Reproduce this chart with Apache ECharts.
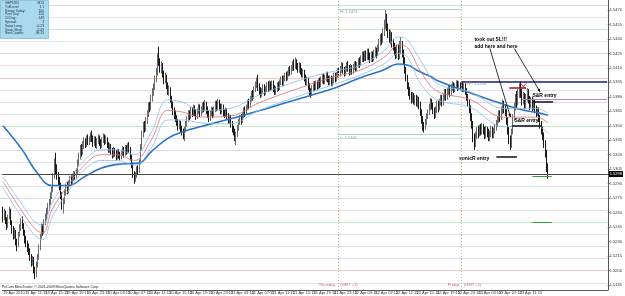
<!DOCTYPE html>
<html>
<head>
<meta charset="utf-8">
<script src="https://cdn.jsdelivr.net/npm/echarts@6/dist/echarts.min.js"></script>
<style>
html, body { margin: 0; padding: 0; background: #fff; }
#chart { width: 625px; height: 296px; }
</style>
</head>
<body>
<div id="chart"></div>
<script>
// GBPUSD M15, 19 Apr 2010 07:00 .. 23 Apr 2010 16:45
// candles are [open, close, low, high] in pips above 1.5000
const mon = [
  [262,255,250,266],[255,260,252,264],[260,252,248,262],[252,246,242,255],[246,255,244,258],[255,262,253,266],[262,250,247,264],[250,243,238,252],[243,236,232,246],[236,240,233,244],
  [240,230,226,242],[230,226,220,233],[226,238,224,240],[238,244,235,248],[244,250,241,254],[250,246,243,256],[246,240,236,249],[240,232,228,242],[232,228,224,236],[228,225,219,231],
  [225,220,216,228],[220,214,210,223],[214,208,204,217],[208,212,205,215],[212,201,197,214],[201,196,191,204],[196,206,193,209],[206,214,203,217],[214,224,211,227],[224,236,221,238],
  [236,245,233,249],[245,240,236,248],[240,250,238,253],[250,256,247,259],[256,262,252,265],[262,266,258,270],[266,271,262,274],[271,277,268,281],[277,283,274,287],[283,298,281,301],
  [298,312,295,316],[312,306,300,322],[306,298,294,310],[298,293,288,302],[293,288,283,297],[288,278,274,291],[278,268,263,281],[268,272,259,275],[272,280,269,284],[280,287,277,290],
  [287,283,279,292],[283,290,280,293],[290,295,287,298],[295,292,288,299],[292,296,289,300],[296,300,293,303],[300,297,294,303],[297,303,295,306],[303,312,300,315],[312,318,309,322],
  [318,326,315,330],[326,322,318,331],[322,330,320,334],[330,334,326,338],[334,331,327,337],[331,337,328,340],[337,333,330,341],[333,336,330,339]
]
const tue = [
  [336,340,333,343],[340,337,333,345],[337,332,328,340],[332,336,329,339],[336,330,327,339],[330,334,326,337],[334,338,331,341],[338,333,329,340],[333,330,326,336],[330,335,327,338],
  [335,339,332,342],[339,334,330,341],[334,336,331,340],[336,330,327,338],[330,326,322,333],[326,329,322,332],[329,324,320,331],[324,320,316,327],[320,325,317,328],[325,322,318,327],
  [322,318,314,325],[318,323,315,326],[323,320,316,326],[320,317,314,323],[317,322,315,325],[322,326,319,329],[326,321,317,328],[321,327,319,330],[327,324,320,330],[324,329,321,332],
  [329,326,322,333],[326,318,314,328],[318,310,306,320],[310,300,296,312],[300,295,290,303],[295,299,292,302],[299,305,296,308],[305,303,299,309],[303,312,301,315],[312,328,310,331],
  [328,342,325,345],[342,350,338,354],[350,347,343,355],[347,356,344,359],[356,362,352,366],[362,370,359,374],[370,368,364,375],[368,378,366,382],[378,385,375,389],[385,390,381,394],
  [390,398,387,402],[398,405,395,410],[405,420,402,425],[420,416,412,432],[416,410,405,420],[410,412,404,417],[412,404,400,415],[404,398,393,407],[398,401,394,405],[401,392,388,403],
  [392,386,382,395],[386,388,381,392],[388,378,374,390],[378,372,368,381],[372,366,361,375],[366,362,357,369],[362,358,354,366],[358,354,350,361],[354,350,345,357],[350,352,346,356],
  [352,347,343,355],[347,344,340,350],[344,340,336,347],[340,346,334,349],[346,352,343,355],[352,357,349,360],[357,362,354,366],[362,360,356,366],[360,366,357,370],[366,363,359,369],
  [363,368,360,372],[368,364,360,371],[364,360,356,367],[360,365,357,368],[365,369,362,373],[369,363,359,372],[363,366,360,370],[366,371,363,374],[371,368,364,375],[368,372,365,377],
  [372,367,362,375],[367,362,358,370],[362,358,354,366],[358,363,355,366],[363,366,360,370],[366,362,358,369]
]
const wed = [
  [362,367,359,370],[367,372,364,376],[372,369,365,376],[369,374,366,378],[374,370,366,377],[370,366,362,373],[366,369,362,373],[369,364,360,372],[364,362,358,367],[362,366,359,369],
  [366,360,356,368],[360,356,352,363],[356,358,352,361],[358,352,348,361],[352,347,343,355],[347,344,340,350],[344,338,334,347],[338,341,330,344],[341,348,338,351],[348,354,345,357],
  [354,358,351,361],[358,355,351,362],[355,361,353,364],[361,366,358,369],[366,363,359,370],[363,369,361,372],[369,374,366,377],[374,371,367,378],[371,378,369,381],[378,383,375,386],
  [383,380,376,387],[380,388,378,391],[388,392,385,396],[392,396,389,400],[396,390,386,403],[390,386,382,394],[386,383,379,390],[383,386,380,389],[386,390,383,393],[390,385,381,393],
  [385,388,382,391],[388,392,385,395],[392,389,385,396],[389,393,386,397],[393,390,386,396],[390,394,387,397],[394,389,385,397],[389,386,382,392],[386,388,382,391],[388,392,385,395],
  [392,390,386,396],[390,395,387,398],[395,398,392,401],[398,394,391,402],[394,399,391,402],[399,402,396,405],[402,400,396,406],[400,404,397,407],[404,408,401,411],[408,405,402,412],
  [405,410,403,413],[410,414,407,417],[414,411,407,419],[411,416,409,421],[416,412,408,419],[412,409,405,415],[409,412,405,416],[412,407,403,415],[407,404,400,410],[404,406,400,409],
  [406,400,396,408],[400,396,392,403],[396,398,392,401],[398,391,387,400],[391,386,382,394],[386,384,379,389],[384,389,381,392],[389,393,386,396],[393,390,386,396],[390,394,387,397],
  [394,391,387,397],[391,396,388,399],[396,393,389,400],[393,398,390,401],[398,401,394,404],[401,397,393,404],[397,400,393,403],[400,403,396,406],[403,399,395,406],[399,396,392,402],
  [396,399,392,402],[399,395,391,402],[395,398,391,401],[398,402,394,405],[402,399,395,405],[399,403,396,406]
]
const thu = [
  [403,407,400,410],[407,404,400,411],[404,409,401,412],[409,412,405,416],[412,408,404,415],[408,405,401,411],[405,409,402,412],[409,413,406,416],[413,410,406,417],[410,406,402,413],
  [406,410,403,414],[410,407,403,413],[407,411,404,414],[411,414,408,417],[414,410,406,417],[410,413,407,416],[413,417,410,420],[417,414,410,421],[414,419,412,423],[419,423,416,427],
  [423,420,416,427],[420,424,417,428],[424,421,417,428],[421,426,418,430],[426,422,418,430],[422,419,415,426],[419,423,416,427],[423,420,416,427],[420,425,417,429],[425,428,421,432],
  [428,424,420,431],[424,430,422,434],[430,436,427,440],[436,441,433,445],[441,438,434,446],[438,447,436,451],[447,455,443,460],[455,462,450,470],[462,452,448,466],[452,446,441,456],
  [446,440,436,450],[440,444,434,449],[444,436,431,447],[436,432,428,440],[432,428,423,436],[428,424,419,432],[424,430,420,434],[430,422,418,434],[422,428,419,438],[428,434,424,442],
  [434,426,421,438],[426,418,414,429],[418,408,404,421],[408,400,396,411],[400,392,388,403],[392,386,381,395],[386,381,377,390],[381,378,373,385],[378,382,374,385],[382,376,372,384],
  [376,379,371,382],[379,374,370,382],[374,378,369,381],[378,372,367,380],[372,364,360,375],[364,357,352,367],[357,350,345,360],[350,348,343,354],[348,354,346,357],[354,360,351,363],
  [360,364,357,367],[364,370,361,373],[370,375,366,379],[375,371,367,378],[371,366,362,374],[366,362,357,369],[362,366,358,370],[366,372,363,376],[372,369,364,376],[369,374,366,378],
  [374,378,371,382],[378,374,370,382],[374,379,371,383],[379,384,376,388],[384,380,376,388],[380,385,377,389],[385,388,382,392],[388,384,380,392],[384,389,381,393],[389,392,386,396],
  [392,388,384,395],[388,391,385,394],[391,394,388,397],[394,390,386,397],[390,393,387,396],[393,391,387,395]
]
const fri = [
  [391,393,388,396],[393,389,385,396],[389,391,385,394],[391,386,382,394],[386,380,376,389],[380,374,370,383],[374,368,363,377],[368,360,355,371],[360,352,347,363],[352,338,333,355],
  [338,332,325,342],[332,340,328,344],[340,346,336,349],[346,342,337,350],[342,348,339,351],[348,344,340,352],[344,349,341,353],[349,345,341,352],[345,341,336,349],[341,346,337,350],
  [346,343,338,349],[343,338,334,347],[338,342,334,345],[342,346,338,350],[346,341,337,349],[341,345,337,348],[345,349,342,352],[349,352,345,356],[352,357,349,360],[357,362,353,366],
  [362,358,354,366],[358,366,356,370],[366,372,362,377],[372,368,363,376],[368,364,360,372],[364,356,351,367],[356,346,341,359],[346,336,331,349],[336,331,325,340],[331,344,327,347],
  [344,358,341,362],[358,370,355,374],[370,378,366,383],[378,374,368,386],[374,383,371,388],[383,390,379,394],[390,384,379,396],[384,376,371,388],[376,381,372,385],[381,372,367,384],
  [372,379,368,383],[379,385,375,389],[385,378,373,388],[378,372,366,381],[372,377,368,380],[377,370,365,380],[370,374,366,378],[374,368,363,377],[368,364,359,371],[364,366,360,369],
  [366,358,354,369],[358,352,347,361],[352,346,341,355],[346,340,335,349],[340,332,327,343],[332,322,317,335],[322,308,302,325],[308,298,295,311]
]

// indicator lines: [bar, pips]
const maSlow = [[0,350],[15,325],[25,304],[38,288],[51,288],[63,297],[76,306],[89,310],[102,311],[107,312],[115,323],[128,337],[140,344],[153,349],[179,358],[205,368],[230,378],[255,388],[278,400],[294,407],[307,414],[314,413],[322,407],[332,401],[337,397],[363,384],[389,372],[404,366],[414,364],[423,361]]
const emaHigh = [[0,297],[15,268],[25,250],[31,247],[38,270],[51,294],[63,314],[76,325],[89,325],[102,320],[115,343],[128,377],[140,374],[153,366],[176,368],[199,382],[230,397],[255,406],[278,413],[297,429],[307,442],[314,439],[324,418],[337,394],[363,385],[389,368],[414,368],[423,363]]
const emaClose = [[0,292],[15,261],[25,243],[31,239],[38,263],[51,289],[63,309],[76,320],[89,320],[102,314],[115,335],[128,366],[140,364],[153,359],[176,360],[199,374],[230,389],[255,400],[278,408],[297,422],[307,434],[314,431],[324,407],[337,386],[363,377],[389,359],[414,359],[423,353]]
const emaLow = [[0,286],[15,254],[25,236],[31,232],[38,255],[51,283],[63,304],[76,314],[89,314],[102,309],[115,327],[128,356],[140,356],[153,353],[176,352],[199,366],[230,381],[255,392],[278,403],[297,415],[307,425],[314,421],[324,394],[337,377],[363,369],[389,349],[414,350],[423,342]]

const yTicks = [1.5185,1.5200,1.5215,1.5230,1.5245,1.5260,1.5275,1.5290,1.5305,1.5320,1.5335,1.5350,1.5365,1.5380,1.5395,1.5410,1.5425,1.5440,1.5455,1.5470]
const xLabels = ['19 Apr 11:15','19 Apr 15:15','19 Apr 19:15','19 Apr 23:15',
  '20 Apr 03:15','20 Apr 07:15','20 Apr 11:15','20 Apr 15:15','20 Apr 19:15','20 Apr 23:15',
  '21 Apr 03:15','21 Apr 07:15','21 Apr 11:15','21 Apr 15:15','21 Apr 19:15','21 Apr 23:15',
  '22 Apr 03:15','22 Apr 07:15','22 Apr 11:15','22 Apr 15:15','22 Apr 19:15','22 Apr 23:15',
  '23 Apr 03:15','23 Apr 07:15','23 Apr 11:15','23 Apr 15:15']
const levels = [1.51875,1.5200,1.52125,1.5225,1.52375,1.5250,1.52625,1.5275,1.52875,1.5300,1.53125,1.5325,
  1.53375,1.5350,1.53625,1.5375,1.53875,1.5400,1.54125,1.5425,1.54375,1.5450,1.54625,1.5475]
const lastPrice = 1.5298
const dayHigh = 1.5471, dayLow = 1.5341, pivot = 1.5396

const BASE = 1.5
const toPrice = v => +(BASE + v / 10000).toFixed(5)
const candles = [].concat(mon, tue, wed, thu, fri).map(c => c.map(toPrice))
const line = arr => arr.map(([i, v]) => [i, toPrice(v)])

// 15 minute slots, chart shifted to the right like MT4
const SLOTS = 470
const cats = []
for (let i = 0; i < SLOTS; i++) {
  const m = 7 * 60 + i * 15
  const d = 19 + Math.floor(m / 1440)
  const hm = m % 1440
  cats.push(d + ' Apr ' + String(Math.floor(hm / 60)).padStart(2, '0') + ':' + String(hm % 60).padStart(2, '0'))
}
const showLabel = (idx, val) => idx === 0 || xLabels.indexOf(val) >= 0

function levelColor(v) {
  const p = Math.round(v * 100000)
  if (p % 1000 === 0) return '#efcccc'
  if (p % 500 === 0) return '#c8e6c8'
  if (p % 250 === 0) return '#d8d8ec'
  return '#e2e2ee'
}

function seg(i0, i1, v, color, width) {
  return [{ coord: [i0, v], lineStyle: { color: color, width: width, type: 'solid' } }, { coord: [i1, v] }]
}

const chart = echarts.init(document.getElementById('chart'))
chart.setOption({
  animation: false,
  backgroundColor: '#fff',
  grid: { left: 0, right: 13, top: 0, bottom: 6 },
  xAxis: {
    type: 'category',
    data: cats,
    boundaryGap: true,
    axisLine: { lineStyle: { color: '#555', width: 1 } },
    axisTick: { interval: showLabel, length: 2, lineStyle: { color: '#555' } },
    axisLabel: {
      interval: showLabel,
      formatter: (val, idx) => idx === 0 ? '19 Apr 2010' : val,
      align: 'left',
      fontSize: 4,
      color: '#333',
      margin: 1,
      fontFamily: 'Liberation Sans'
    },
    splitLine: { show: false }
  },
  yAxis: {
    type: 'value',
    position: 'right',
    min: 1.517975,
    max: 1.548037,
    axisLine: { show: true, lineStyle: { color: '#555', width: 1 } },
    axisTick: { show: true, customValues: yTicks, length: 2, lineStyle: { color: '#555' } },
    axisLabel: {
      customValues: yTicks,
      formatter: v => v.toFixed(4),
      fontSize: 4,
      color: '#333',
      margin: 2,
      fontFamily: 'Liberation Sans'
    },
    splitLine: { show: false }
  },
  series: [
    {
      name: 'objects',
      type: 'line',
      data: [],
      z: 2,
      silent: true,
      markLine: {
        symbol: 'none',
        silent: true,
        label: { show: false },
        data: [
          { xAxis: 260, lineStyle: { color: '#cdbf8a', width: 1, type: [1, 2] } },
          { xAxis: 356, lineStyle: { color: '#cdbf8a', width: 1, type: [1, 2] } },
          seg(260, 356, dayHigh, '#a6d9cf', 1),
          seg(260, 356, dayLow, '#a6d9cf', 1),
          seg(356, 469, pivot, '#1d1d78', 1.6),
          seg(403, 469, 1.5377, '#b585b3', 1),
          seg(393, 406, 1.5389, '#a31515', 1.5),
          seg(411, 427, 1.5375, '#111', 1.5),
          seg(395, 418, 1.5350, '#111', 1.5),
          seg(383, 399, 1.5318, '#111', 1.5),
          seg(411, 426, 1.5250, '#2f9e3a', 1),
          seg(411, 426, lastPrice, '#2f9e3a', 1)
        ]
      }
    },
    {
      name: 'GBPUSD',
      type: 'candlestick',
      data: candles,
      z: 3,
      barWidth: 1,
      itemStyle: {
        color: '#ffffff',
        color0: '#2a2a2a',
        borderColor: '#6a6a6a',
        borderColor0: '#1a1a1a',
        borderWidth: 1
      },
      markLine: {
        symbol: 'none',
        silent: true,
        data: [{ yAxis: lastPrice }],
        lineStyle: { color: '#4a4a4a', width: 1, type: 'solid' },
        label: {
          show: true,
          position: 'end',
          distance: 1,
          formatter: () => lastPrice.toFixed(4),
          backgroundColor: '#000',
          color: '#fff',
          fontSize: 4,
          padding: [1, 1],
          fontFamily: 'Liberation Sans'
        }
      }
    },
    {
      name: 'EMA89', type: 'line', data: line(maSlow), smooth: 0.4, symbol: 'none', z: 4,
      lineStyle: { color: '#2b73c8', width: 1.6 }
    },
    {
      name: 'EMA34 high', type: 'line', data: line(emaHigh), smooth: 0.4, symbol: 'none', z: 4,
      lineStyle: { color: '#8dbbe8', width: 0.8 }
    },
    {
      name: 'EMA34 close', type: 'line', data: line(emaClose), smooth: 0.4, symbol: 'none', z: 4,
      lineStyle: { color: '#d97070', width: 0.8 }
    },
    {
      name: 'EMA34 low', type: 'line', data: line(emaLow), smooth: 0.4, symbol: 'none', z: 4,
      lineStyle: { color: '#8dbbe8', width: 0.8 }
    }
  ]
})

// drawn objects, anchored in data space
const P = (i, v) => chart.convertToPixel({ gridIndex: 0 }, [i, v])
const g = []

// pale level lines behind the price, snapped to whole pixels
const gridRight = P(SLOTS - 1, lastPrice)[0] + 0.7
levels.forEach(v => {
  const y = Math.round(P(0, v)[1]) + 0.5
  g.push({ type: 'line', z: 0, silent: true, shape: { x1: 0, y1: y, x2: gridRight, y2: y }, style: { stroke: levelColor(v), lineWidth: 1 } })
})

const notes = [
  { bar: 366, price: 1.5439, text: 'took out SL!!!' },
  { bar: 366, price: 1.5432, text: 'add here and here' },
  { bar: 411, price: 1.5381, text: 'S&R entry' },
  { bar: 397, price: 1.5355, text: 'S&R entry' },
  { bar: 354, price: 1.5316, text: 'sonicR entry' }
]
const arrows = [
  { from: [378, 1.5430], to: [394, 1.5359] },
  { from: [397, 1.5430], to: [417, 1.5385] }
]
notes.forEach(n => {
  const p = P(n.bar, n.price)
  g.push({ type: 'text', x: p[0], y: p[1], z: 10, style: { text: n.text, fill: '#000', font: 'bold 5px "Liberation Sans"', textVerticalAlign: 'middle' } })
})
arrows.forEach(a => {
  const p0 = P(a.from[0], a.from[1]), p1 = P(a.to[0], a.to[1])
  const ang = Math.atan2(p1[1] - p0[1], p1[0] - p0[0])
  g.push({ type: 'line', z: 10, shape: { x1: p0[0], y1: p0[1], x2: p1[0], y2: p1[1] }, style: { stroke: '#000', lineWidth: 0.8 } })
  g.push({ type: 'polygon', z: 10, shape: { points: [
    [p1[0], p1[1]],
    [p1[0] - 3.5 * Math.cos(ang - 0.4), p1[1] - 3.5 * Math.sin(ang - 0.4)],
    [p1[0] - 3.5 * Math.cos(ang + 0.4), p1[1] - 3.5 * Math.sin(ang + 0.4)]
  ] }, style: { fill: '#000' } })
})
const xp = P(404, 1.5391)
g.push({ type: 'line', z: 10, shape: { x1: xp[0] - 3, y1: xp[1] - 3, x2: xp[0] + 3, y2: xp[1] + 3 }, style: { stroke: '#c01818', lineWidth: 0.9 } })
g.push({ type: 'line', z: 10, shape: { x1: xp[0] + 3, y1: xp[1] - 3, x2: xp[0] - 3, y2: xp[1] + 3 }, style: { stroke: '#c01818', lineWidth: 0.9 } })

const hp = P(261, dayHigh), lp = P(261, dayLow), pp = P(359, pivot)
g.push({ type: 'text', x: hp[0] + 1, y: hp[1] + 1, z: 10, style: { text: 'H: 1.5471', fill: '#8a9a9a', font: '4px "Liberation Sans"' } })
g.push({ type: 'text', x: lp[0] + 1, y: lp[1] + 1, z: 10, style: { text: 'L: 1.5341', fill: '#8a9a9a', font: '4px "Liberation Sans"' } })
g.push({ type: 'text', x: pp[0] + 1, y: pp[1] + 1, z: 10, style: { text: 'PP: 1.5396', fill: '#8a8a9a', font: '4px "Liberation Sans"' } })

const dayNames = [{ bar: 260, name: 'Thursday' }, { bar: 356, name: 'Friday' }]
dayNames.forEach(d => {
  const x = P(d.bar, lastPrice)[0] - 0.6
  g.push({ type: 'text', x: x - 2, y: 285, z: 10, style: { text: d.name, fill: '#d2607e', font: '4px "Liberation Sans"', textAlign: 'right', textVerticalAlign: 'middle' } })
  g.push({ type: 'text', x: x + 3, y: 285, z: 10, style: { text: '(GMT +1)', fill: '#d2607e', font: '4px "Liberation Sans"', textVerticalAlign: 'middle' } })
})

g.push({ type: 'text', left: 2, top: 285, z: 10, style: { text: 'PriCom MetaTrader, \u00a9 2001-2009 MetaQuotes Software Corp.', fill: '#222', font: '3.5px "Liberation Sans"' } })

// info panel, top left
const info = [
  ['GBPUSD', 'M15'], ['TuffLevel', '1.1'], ['Range Today:', '100'], ['Prev Day:', '150'], ['10 Day:', '149'],
  ['Spread:', '3'], ['Swap Long:', '-0.23'], ['Swap Short:', '-0.45'], ['New Candle:', '08:15']
]
g.push({ type: 'rect', left: 0, top: 0, z: 9, shape: { width: 48, height: 38 }, style: { fill: '#a9d8ef', stroke: '#8fc3de' } })
info.forEach((r, k) => {
  g.push({ type: 'text', x: 5, y: 3 + k * 3.8, z: 10, style: { text: r[0], fill: '#234', font: '3.3px "Liberation Sans"', textVerticalAlign: 'middle' } })
  g.push({ type: 'text', x: 44, y: 3 + k * 3.8, z: 10, style: { text: r[1], fill: '#234', font: '3.3px "Liberation Sans"', textAlign: 'right', textVerticalAlign: 'middle' } })
})

chart.setOption({ graphic: g })
</script>
</body>
</html>
